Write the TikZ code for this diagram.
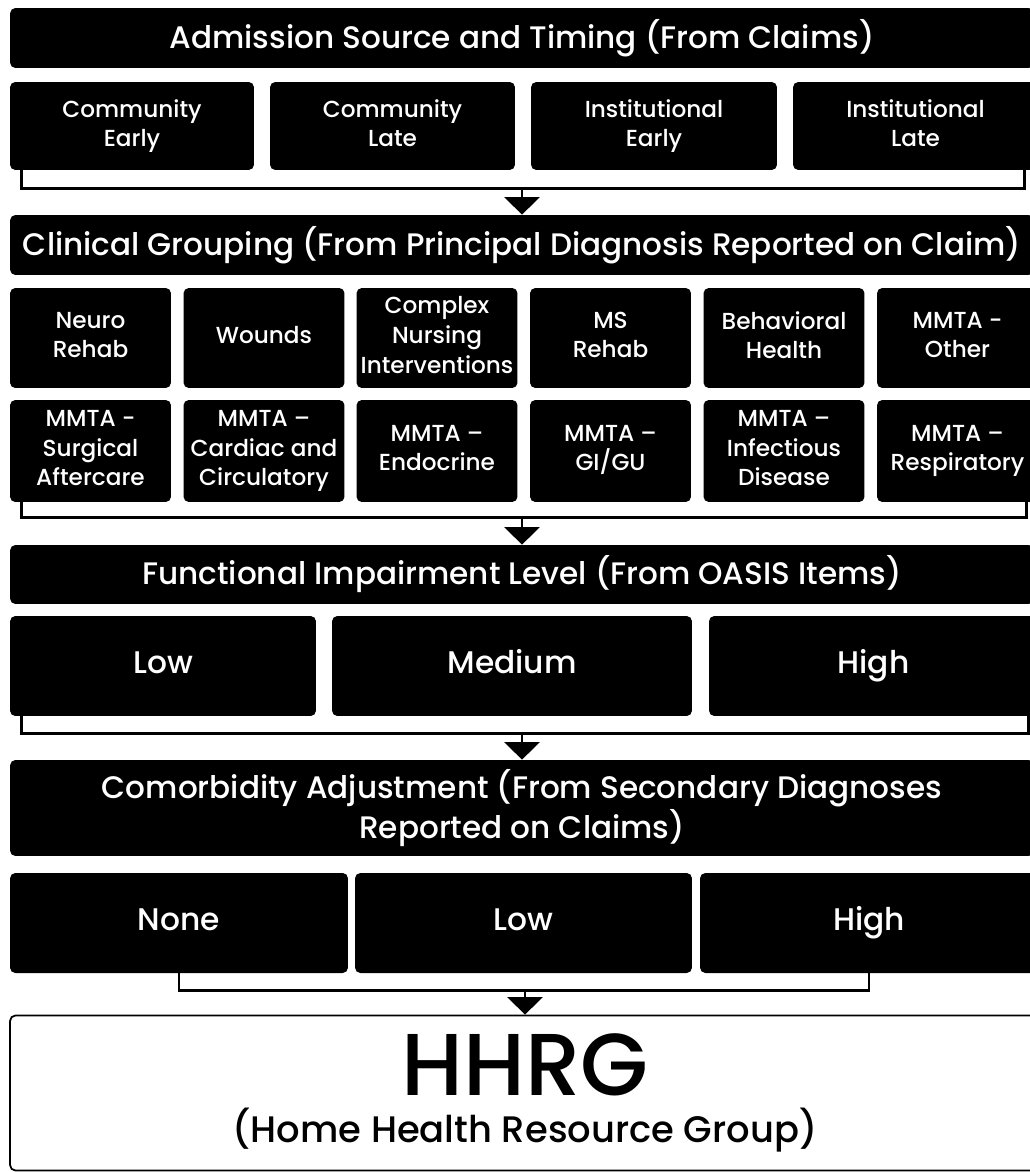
\documentclass[tikz,border=0pt]{standalone}
\usepackage{fontspec}
\setmainfont{Poppins Medium}
\usetikzlibrary{arrows.meta}

\begin{document}
\begin{tikzpicture}[x=0.02cm,y=-0.02cm,
  bar/.style={fill=black,text=white,rounded corners=3pt,minimum width=20.48cm,
    inner sep=0pt,align=center,font=\fontsize{17.7}{22.6}\selectfont},
  cell/.style={fill=black,text=white,rounded corners=3pt,inner sep=0pt,
    text depth=3.5pt,align=center,font=\fontsize{13.2}{16.8}\selectfont},
  bigcell/.style={cell,minimum height=2cm,text height=13pt,text depth=4.5pt,
    font=\fontsize{17.8}{22}\selectfont},
  brace/.style={line width=1.4pt},
  feed/.style={line width=1.4pt,-{Triangle[width=20pt,length=10pt]}}]
  \useasboundingbox (0,0) rectangle (1030,1172);

  % admission source
  \node[bar,minimum height=1.2cm] (adm) at (522,38) {Admission Source and Timing (From Claims)};
  \node[cell,minimum width=4.88cm,minimum height=1.76cm] (ce) at (132,126) {Community\\Early};
  \node[cell,minimum width=4.9cm,minimum height=1.76cm] (cl) at (392.5,126) {Community\\Late};
  \node[cell,minimum width=4.92cm,minimum height=1.76cm] (ie) at (654,126) {Institutional\\Early};
  \node[cell,minimum width=4.9cm,minimum height=1.76cm] (il) at (915.5,126) {Institutional\\Late};

  \coordinate (j1) at ([yshift=-0.36cm]ce.south);
  \draw[brace] ([xshift=0.24cm]ce.south west) |- ([xshift=-0.28cm]j1 -| il.south east) -- ([xshift=-0.28cm]il.south east);

  % clinical grouping
  \node[bar,minimum height=1.2cm] (clin) at (522,245) {Clinical Grouping (From Principal Diagnosis Reported on Claim)};
  \draw[feed] (j1 -| clin.north) -- (clin.north);

  \node[cell,minimum width=3.22cm,minimum height=2cm] (neuro) at (90.5,338) {Neuro\\Rehab};
  \node[cell,minimum width=3.22cm,minimum height=2cm] (wound) at (264,338) {Wounds};
  \node[cell,minimum width=3.22cm,minimum height=2cm] (cni) at (437,338) {Complex\\Nursing\\Interventions};
  \node[cell,minimum width=3.22cm,minimum height=2cm] (ms) at (610.5,338) {MS\\Rehab};
  \node[cell,minimum width=3.22cm,minimum height=2cm] (beh) at (784,338) {Behavioral\\Health};
  \node[cell,minimum width=3.22cm,minimum height=2cm] (other) at (957.5,338) {MMTA -\\Other};

  \node[cell,minimum width=3.22cm,minimum height=2.04cm] (surg) at (90.5,451) {MMTA -\\Surgical\\Aftercare};
  \node[cell,minimum width=3.22cm,minimum height=2.04cm] (card) at (264,451) {MMTA --\\Cardiac and\\Circulatory};
  \node[cell,minimum width=3.22cm,minimum height=2.04cm] (endo) at (437,451) {MMTA --\\Endocrine};
  \node[cell,minimum width=3.22cm,minimum height=2.04cm] (gigu) at (610.5,451) {MMTA --\\GI/GU};
  \node[cell,minimum width=3.22cm,minimum height=2.04cm] (infec) at (784,451) {MMTA --\\Infectious\\Disease};
  \node[cell,minimum width=3.22cm,minimum height=2.04cm] (resp) at (957.5,451) {MMTA --\\Respiratory};

  \coordinate (j2) at ([yshift=-0.3cm]surg.south);
  \draw[brace] ([xshift=0.24cm]surg.south west) |- ([xshift=-0.24cm]j2 -| resp.south east) -- ([xshift=-0.24cm]resp.south east);

  % functional impairment
  \node[bar,minimum height=1.18cm] (func) at (522,574.5) {Functional Impairment Level (From OASIS Items)};
  \draw[feed] (j2 -| func.north) -- (func.north);

  \node[bigcell,minimum width=6.12cm] (flow) at (163,666) {Low};
  \node[bigcell,minimum width=7.2cm] (fmed) at (512,666) {Medium};
  \node[bigcell,minimum width=6.58cm] (fhigh) at (873.5,666) {High};

  \coordinate (j3) at ([yshift=-0.34cm]flow.south);
  \draw[brace] ([xshift=0.24cm]flow.south west) |- ([xshift=-0.2cm]j3 -| fhigh.south east) -- ([xshift=-0.2cm]fhigh.south east);

  % comorbidity
  \node[bar,minimum height=1.92cm] (como) at (522,808) {Comorbidity Adjustment (From Secondary Diagnoses\\Reported on Claims)};
  \draw[feed] (j3 -| como.north) -- (como.north);

  \node[bigcell,minimum width=6.76cm] (cnone) at (179,923) {None};
  \node[bigcell,minimum width=6.74cm] (clow) at (523.5,923) {Low};
  \node[bigcell,minimum width=6.76cm] (chigh) at (869,923) {High};

  \coordinate (j4) at ([yshift=-0.34cm]cnone.south);
  \draw[brace] (cnone.south) |- (j4 -| chigh.south) -- (chigh.south);

  % result
  \node[draw=black,line width=1pt,fill=white,rounded corners=3pt,minimum width=20.6cm,
    minimum height=3.1cm,inner sep=0pt,align=center] (hhrg) at (525,1093)
    {{\fontsize{50}{50}\selectfont HHRG}\\[6pt]{\fontsize{21}{24}\selectfont (Home Health Resource Group)}};
  \draw[feed] (j4 -| hhrg.north) -- (hhrg.north);
\end{tikzpicture}
\end{document}
